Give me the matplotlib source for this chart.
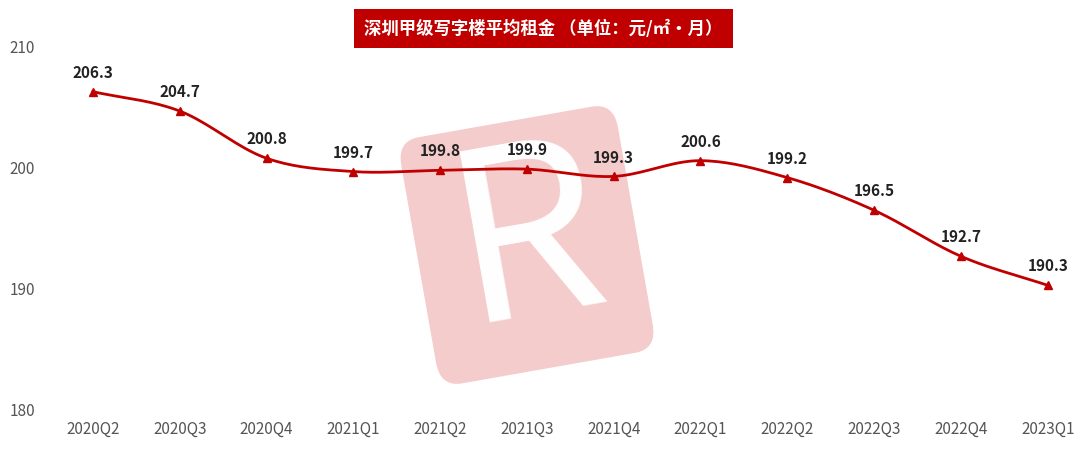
import numpy as np
import matplotlib
matplotlib.use("Agg")
import matplotlib.pyplot as plt
from matplotlib.patches import FancyBboxPatch
import matplotlib.transforms as mtransforms

plt.rcParams["font.family"] = ["Noto Sans CJK SC", "DejaVu Sans"]

quarters = ["2020Q2", "2020Q3", "2020Q4", "2021Q1", "2021Q2", "2021Q3",
            "2021Q4", "2022Q1", "2022Q2", "2022Q3", "2022Q4", "2023Q1"]
rents = [206.3, 204.7, 200.8, 199.7, 199.8, 199.9, 199.3, 200.6, 199.2, 196.5, 192.7, 190.3]
title = "深圳甲级写字楼平均租金 （单位：元/㎡·月）"
red = "#c00000"


def smooth(x, y, n=20):
    # Catmull-Rom curve through the data points (drawing only)
    x = np.asarray(x, float)
    y = np.asarray(y, float)
    px = np.concatenate([[2 * x[0] - x[1]], x, [2 * x[-1] - x[-2]]])
    py = np.concatenate([[2 * y[0] - y[1]], y, [2 * y[-1] - y[-2]]])
    xs, ys = [], []
    t = np.linspace(0, 1, n, endpoint=False)
    for i in range(1, len(px) - 2):
        for p, out in ((px, xs), (py, ys)):
            p0, p1, p2, p3 = p[i - 1], p[i], p[i + 1], p[i + 2]
            out.extend(0.5 * (2 * p1 + (-p0 + p2) * t + (2 * p0 - 5 * p1 + 4 * p2 - p3) * t ** 2
                              + (-p0 + 3 * p1 - 3 * p2 + p3) * t ** 3))
    xs.append(x[-1])
    ys.append(y[-1])
    return xs, ys


fig = plt.figure(figsize=(10.8, 4.51), dpi=100)
ax = fig.add_axes([0.037, 0.091, 0.958, 0.805])
ax.set_zorder(3)
x = np.arange(len(quarters))

# watermark behind the axes
wm = FancyBboxPatch((-0.5, -0.5), 1, 1, boxstyle="round,pad=0,rounding_size=0.1",
                    transform=mtransforms.Affine2D().scale(220, 250).rotate_deg(10).translate(527, 206),
                    facecolor="#f4cccc", edgecolor="none", zorder=0)
fig.patches.append(wm)
fig.text(0.488, 0.46, "R", fontsize=170, color="white", ha="center", va="center",
         rotation=10, zorder=1)

sx, sy = smooth(x, rents)
ax.plot(sx, sy, color=red, linewidth=2, zorder=3)
ax.plot(x, rents, linestyle="none", marker="^", markersize=6, color=red, zorder=4)
for xi, v in zip(x, rents):
    ax.annotate(f"{v:.1f}", (xi, v), textcoords="offset points", xytext=(0, 10),
                ha="center", fontsize=11, fontweight="bold", color="#222222")

ax.set_ylim(180, 210)
ax.set_yticks([180, 190, 200, 210])
ax.set_xlim(-0.61, 11.31)
ax.set_xticks(x)
ax.set_xticklabels(quarters)
ax.tick_params(length=0, labelsize=11, colors="#555555")
ax.tick_params(axis="x", pad=8)
for s in ax.spines.values():
    s.set_visible(False)
ax.patch.set_alpha(0)

fig.text(0.503, 0.936, title, ha="center", va="center", color="white", fontsize=12.5,
         fontweight="bold",
         bbox=dict(boxstyle="square,pad=0.6", facecolor=red, edgecolor="none"))

fig.savefig("out.png", dpi=100)
